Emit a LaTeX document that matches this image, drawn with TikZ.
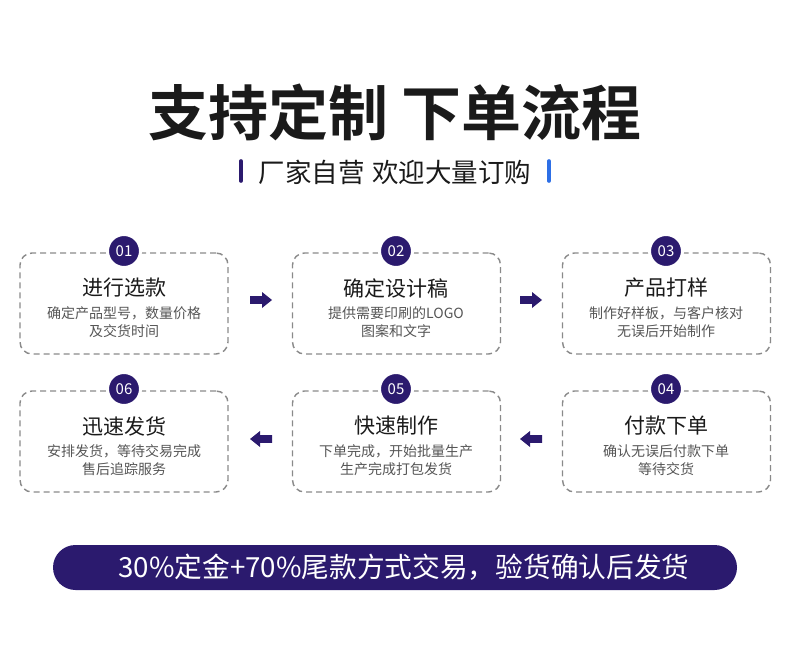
\documentclass[tikz,border=0pt]{standalone}
\usepackage{fontspec}
\setmainfont{Noto Sans CJK SC}
\newfontfamily\cjkbold{Noto Sans CJK SC Bold}
\definecolor{navy}{HTML}{2B1A6E}
\definecolor{barblue}{HTML}{2D6FE6}
\definecolor{dashgray}{HTML}{8A8A8A}
\definecolor{titleblack}{HTML}{1A1A1A}
\definecolor{descgray}{HTML}{555555}
\tikzset{
  stepbox/.style={draw=dashgray, line width=1.4pt, dash pattern=on 6pt off 4pt, rounded corners=12pt,
    minimum width=208pt, minimum height=101pt, inner sep=0pt},
  numdot/.style={circle, fill=navy, draw=white, line width=3pt, minimum size=33pt, inner sep=0pt,
    text=white, font=\fontsize{15}{15}\selectfont},
  boxtitle/.style={text=titleblack, font=\fontsize{21}{24}\selectfont},
  boxdesc/.style={text=descgray, font=\fontsize{14}{18}\selectfont, align=center},
  sidebar/.style={line width=3.6pt, line cap=round},
  blockarrow/.pic={\fill[navy] (-11,-3.8) -- (1,-3.8) -- (1,-8) -- (11,0) -- (1,8) -- (1,3.8) -- (-11,3.8) -- cycle;}
}
\begin{document}
\begin{tikzpicture}[x=1pt,y=-1pt]
\useasboundingbox (0,0) rectangle (790,655);
% title
\node[text=titleblack, font=\cjkbold\fontsize{60}{62}\selectfont, inner sep=0pt] (title) at (395,112) {支持定制\hspace{14pt}下单流程};
\node[text=titleblack, font=\fontsize{26.5}{28}\selectfont, inner sep=0pt] (sub) at (395,172) {厂家自营\hspace{8pt}欢迎大量订购};
\coordinate (lb1) at (241,161); \coordinate (lb2) at (241,181);
\coordinate (rb1) at (549,161); \coordinate (rb2) at (549,181);
\draw[sidebar, navy] (lb1) -- (lb2);
\draw[sidebar, barblue] (rb1) -- (rb2);
% boxes row 1
\node[stepbox] (b1) at (124,303.5) {};
\node[stepbox] (b2) at (396.5,303.5) {};
\node[stepbox] (b3) at (666.5,303.5) {};
% boxes row 2
\node[stepbox] (b6) at (124,441.5) {};
\node[stepbox] (b5) at (396.5,441.5) {};
\node[stepbox] (b4) at (666.5,441.5) {};
% numbers
\node[numdot] (n1) at (124,251) {01};
\node[numdot] (n2) at (396,251) {02};
\node[numdot] (n3) at (666,251) {03};
\node[numdot] (n6) at (124,389) {06};
\node[numdot] (n5) at (396,389) {05};
\node[numdot] (n4) at (666,389) {04};
% texts row 1
\node[boxtitle] (t1) at (124,288) {进行选款};
\node[boxdesc] (d1) at (124,322) {确定产品型号，数量价格\\及交货时间};
\node[boxtitle] (t2) at (396,288) {确定设计稿};
\node[boxdesc] (d2) at (396,322) {提供需要印刷的LOGO\\图案和文字};
\node[boxtitle] (t3) at (666,288) {产品打样};
\node[boxdesc] (d3) at (666,322) {制作好样板，与客户核对\\无误后开始制作};
% texts row 2
\node[boxtitle] (t6) at (124,426) {迅速发货};
\node[boxdesc] (d6) at (124,460) {安排发货，等待交易完成\\售后追踪服务};
\node[boxtitle] (t5) at (396,426) {快速制作};
\node[boxdesc] (d5) at (396,460) {下单完成，开始批量生产\\生产完成打包发货};
\node[boxtitle] (t4) at (666,426) {付款下单};
\node[boxdesc] (d4) at (666,460) {确认无误后付款下单\\等待交货};
% arrows
\coordinate (a12) at (261,300);
\coordinate (a23) at (531,300);
\coordinate (a45) at (531,439);
\coordinate (a56) at (261,439);
\pic at (a12) {blockarrow};
\pic at (a23) {blockarrow};
\pic[rotate=180] at (a45) {blockarrow};
\pic[rotate=180] at (a56) {blockarrow};
% bottom bar
\node[fill=navy, rounded corners=22.5pt, minimum width=684pt, minimum height=45pt, inner sep=0pt] (bar) at (395,567.5) {};
\node[text=white, font=\fontsize{27.7}{30}\selectfont, inner sep=0pt] (bartext) at (404,567.5) {30\%定金+70\%尾款方式交易，验货确认后发货};
\end{tikzpicture}
\end{document}
